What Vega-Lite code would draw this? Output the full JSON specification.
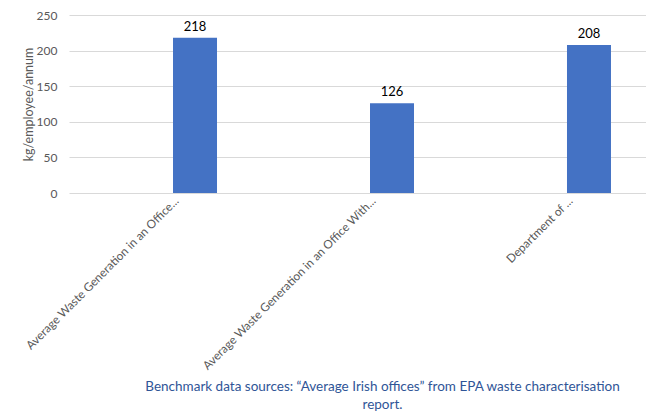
{
  "$schema": "https://vega.github.io/schema/vega-lite/v6.json",
  "autosize": {"type": "none"},
  "padding": {"left": 69, "top": 15, "right": 0, "bottom": 227},
  "width": 577,
  "height": 178,
  "background": "white",
  "config": {"font": "Lato", "view": {"stroke": null}},
  "title": {
    "text": ["Benchmark data sources: \u201cAverage Irish offices\u201d from EPA waste characterisation", "report."],
    "orient": "bottom",
    "anchor": "middle",
    "dx": 25,
    "offset": 8,
    "fontSize": 13.5,
    "fontWeight": "normal",
    "color": "#2F5597",
    "lineHeight": 18
  },
  "data": {
    "values": [
      {"cat": "Average Waste Generation in an Office...", "series": "value", "v": 218},
      {"cat": "Average Waste Generation in an Office With...", "series": "value", "v": 126},
      {"cat": "Department of ...", "series": "value", "v": 208}
    ]
  },
  "encoding": {
    "x": {
      "field": "cat", "type": "nominal", "sort": null,
      "scale": {"range": [0, 602], "paddingInner": 0, "paddingOuter": 0.028},
      "axis": {
        "title": null, "labelAngle": -45, "labelAlign": "right", "labelBaseline": "top",
        "labelPadding": 2, "labelFontSize": 11.8, "labelColor": "#595959",
        "labelLimit": 400, "ticks": false, "domain": false
      }
    },
    "xOffset": {
      "field": "series", "type": "nominal",
      "scale": {"domain": ["g1", "g2", "value", "g3"], "paddingInner": 0, "paddingOuter": 0.2386}
    },
    "y": {
      "field": "v", "type": "quantitative",
      "scale": {"domain": [0, 250]},
      "axis": {
        "title": "kg/employee/annum", "values": [0, 50, 100, 150, 200, 250],
        "titleFontSize": 12.5, "titleFontWeight": "normal", "titleColor": "#595959",
        "titlePadding": 1, "labelFontSize": 12, "labelColor": "#595959", "labelPadding": 12,
        "gridColor": "#d9d9d9", "gridWidth": 1, "ticks": false, "domain": false
      }
    }
  },
  "layer": [
    {"mark": {"type": "bar", "color": "#4472C4"}},
    {
      "mark": {"type": "text", "baseline": "alphabetic", "dy": -7, "fontSize": 13, "color": "#000000"},
      "encoding": {"text": {"field": "v", "type": "quantitative"}}
    }
  ]
}
